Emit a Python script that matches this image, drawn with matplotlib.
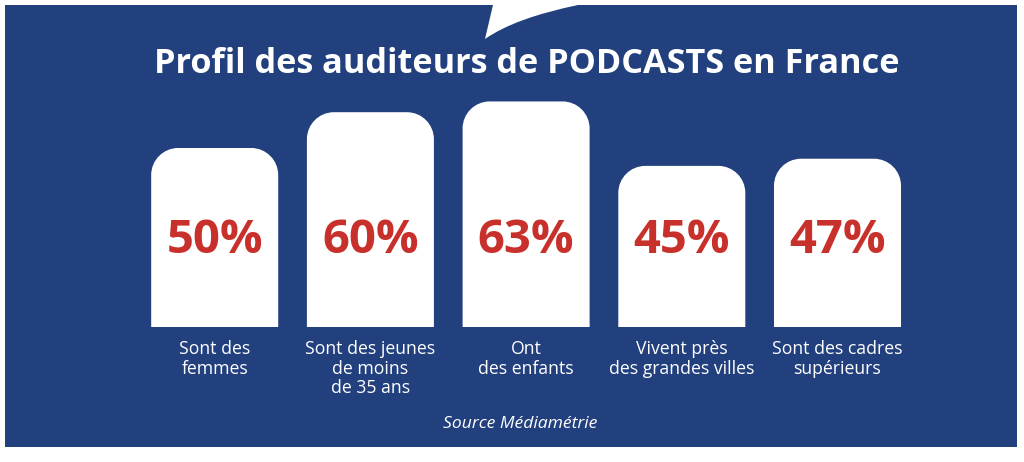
import matplotlib
matplotlib.use("Agg")
import matplotlib.pyplot as plt
from matplotlib.patches import Rectangle, PathPatch
from matplotlib.path import Path
from matplotlib.transforms import blended_transform_factory

# ---- data ----
categories = ["Sont des\nfemmes", "Sont des jeunes\nde moins\nde 35 ans", "Ont\ndes enfants",
              "Vivent près\ndes grandes villes", "Sont des cadres\nsupérieurs"]
values = [50, 60, 63, 45, 47]
value_labels = ["50%", "60%", "63%", "45%", "47%"]
title = "Profil des auditeurs de PODCASTS en France"
source = "Source Médiamétrie"

BLUE = "#22407e"
RED = "#c8302b"
FONT = ["Open Sans", "DejaVu Sans"]

W, H = 1024, 462
fig = plt.figure(figsize=(W / 100, H / 100), dpi=100)
fig.patch.set_facecolor("white")

# background axes in pixel coordinates
bg = fig.add_axes([0, 0, 1, 1])
bg.set_xlim(0, W)
bg.set_ylim(H, 0)
bg.axis("off")
bg.add_patch(Rectangle((5, 5), 1012, 442, facecolor=BLUE, edgecolor="none"))
# speech bubble tail
verts = [(493, 0), (493, 5), (489, 22), (485, 39), (515, 18), (578, 5), (578, 0), (493, 0)]
codes = [Path.MOVETO, Path.LINETO, Path.CURVE3, Path.CURVE3, Path.CURVE3, Path.CURVE3,
         Path.LINETO, Path.CLOSEPOLY]
bg.add_patch(PathPatch(Path(verts, codes), facecolor="white", edgecolor="none"))

bg.text(527, 64, title, color="white", fontsize=24.7, fontweight="bold", family=FONT,
        ha="center", va="center")
bg.text(520, 424, source, color="white", fontsize=12.6, style="italic", family=FONT,
        ha="center", va="center")

# bar axes: y=0 at pixel 327, 3.58 px per unit; x centers 214.7 + 155.7*i
y0_px, ppu = 327, 3.58
ymax = 70
step = 155.7
c0 = 214.7
x_left_px = c0 - step
x_right_px = c0 + 5 * step
ax = fig.add_axes([x_left_px / W, (H - y0_px) / H, (x_right_px - x_left_px) / W, ymax * ppu / H])
ax.set_xlim(-1, 5)
ax.set_ylim(0, ymax)
ax.axis("off")
ax.patch.set_alpha(0)

bw = 127 / step
rx = 27 / step
ry = 27 / ppu
k = 0.5523


def top_rounded(x0, x1, h):
    v = [(x0, 0), (x0, h - ry),
         (x0, h - ry + k * ry), (x0 + rx - k * rx, h), (x0 + rx, h),
         (x1 - rx, h),
         (x1 - rx + k * rx, h), (x1, h - ry + k * ry), (x1, h - ry),
         (x1, 0), (x0, 0)]
    c = [Path.MOVETO, Path.LINETO,
         Path.CURVE4, Path.CURVE4, Path.CURVE4,
         Path.LINETO,
         Path.CURVE4, Path.CURVE4, Path.CURVE4,
         Path.LINETO, Path.CLOSEPOLY]
    return Path(v, c)


for i, v in enumerate(values):
    ax.add_patch(PathPatch(top_rounded(i - bw / 2, i + bw / 2, v),
                           facecolor="white", edgecolor="none"))
    ax.text(i, (y0_px - 240) / ppu, value_labels[i], color=RED, fontsize=34, fontweight="bold",
            family=FONT, ha="center", va="center")

tr = blended_transform_factory(ax.transData, fig.transFigure)
for i, lab in enumerate(categories):
    ax.text(i, (H - 340) / H, lab, transform=tr, color="white", fontsize=12.7, family=FONT,
            ha="center", va="top", linespacing=1.12)

fig.savefig("out.png", dpi=100, facecolor="white")
